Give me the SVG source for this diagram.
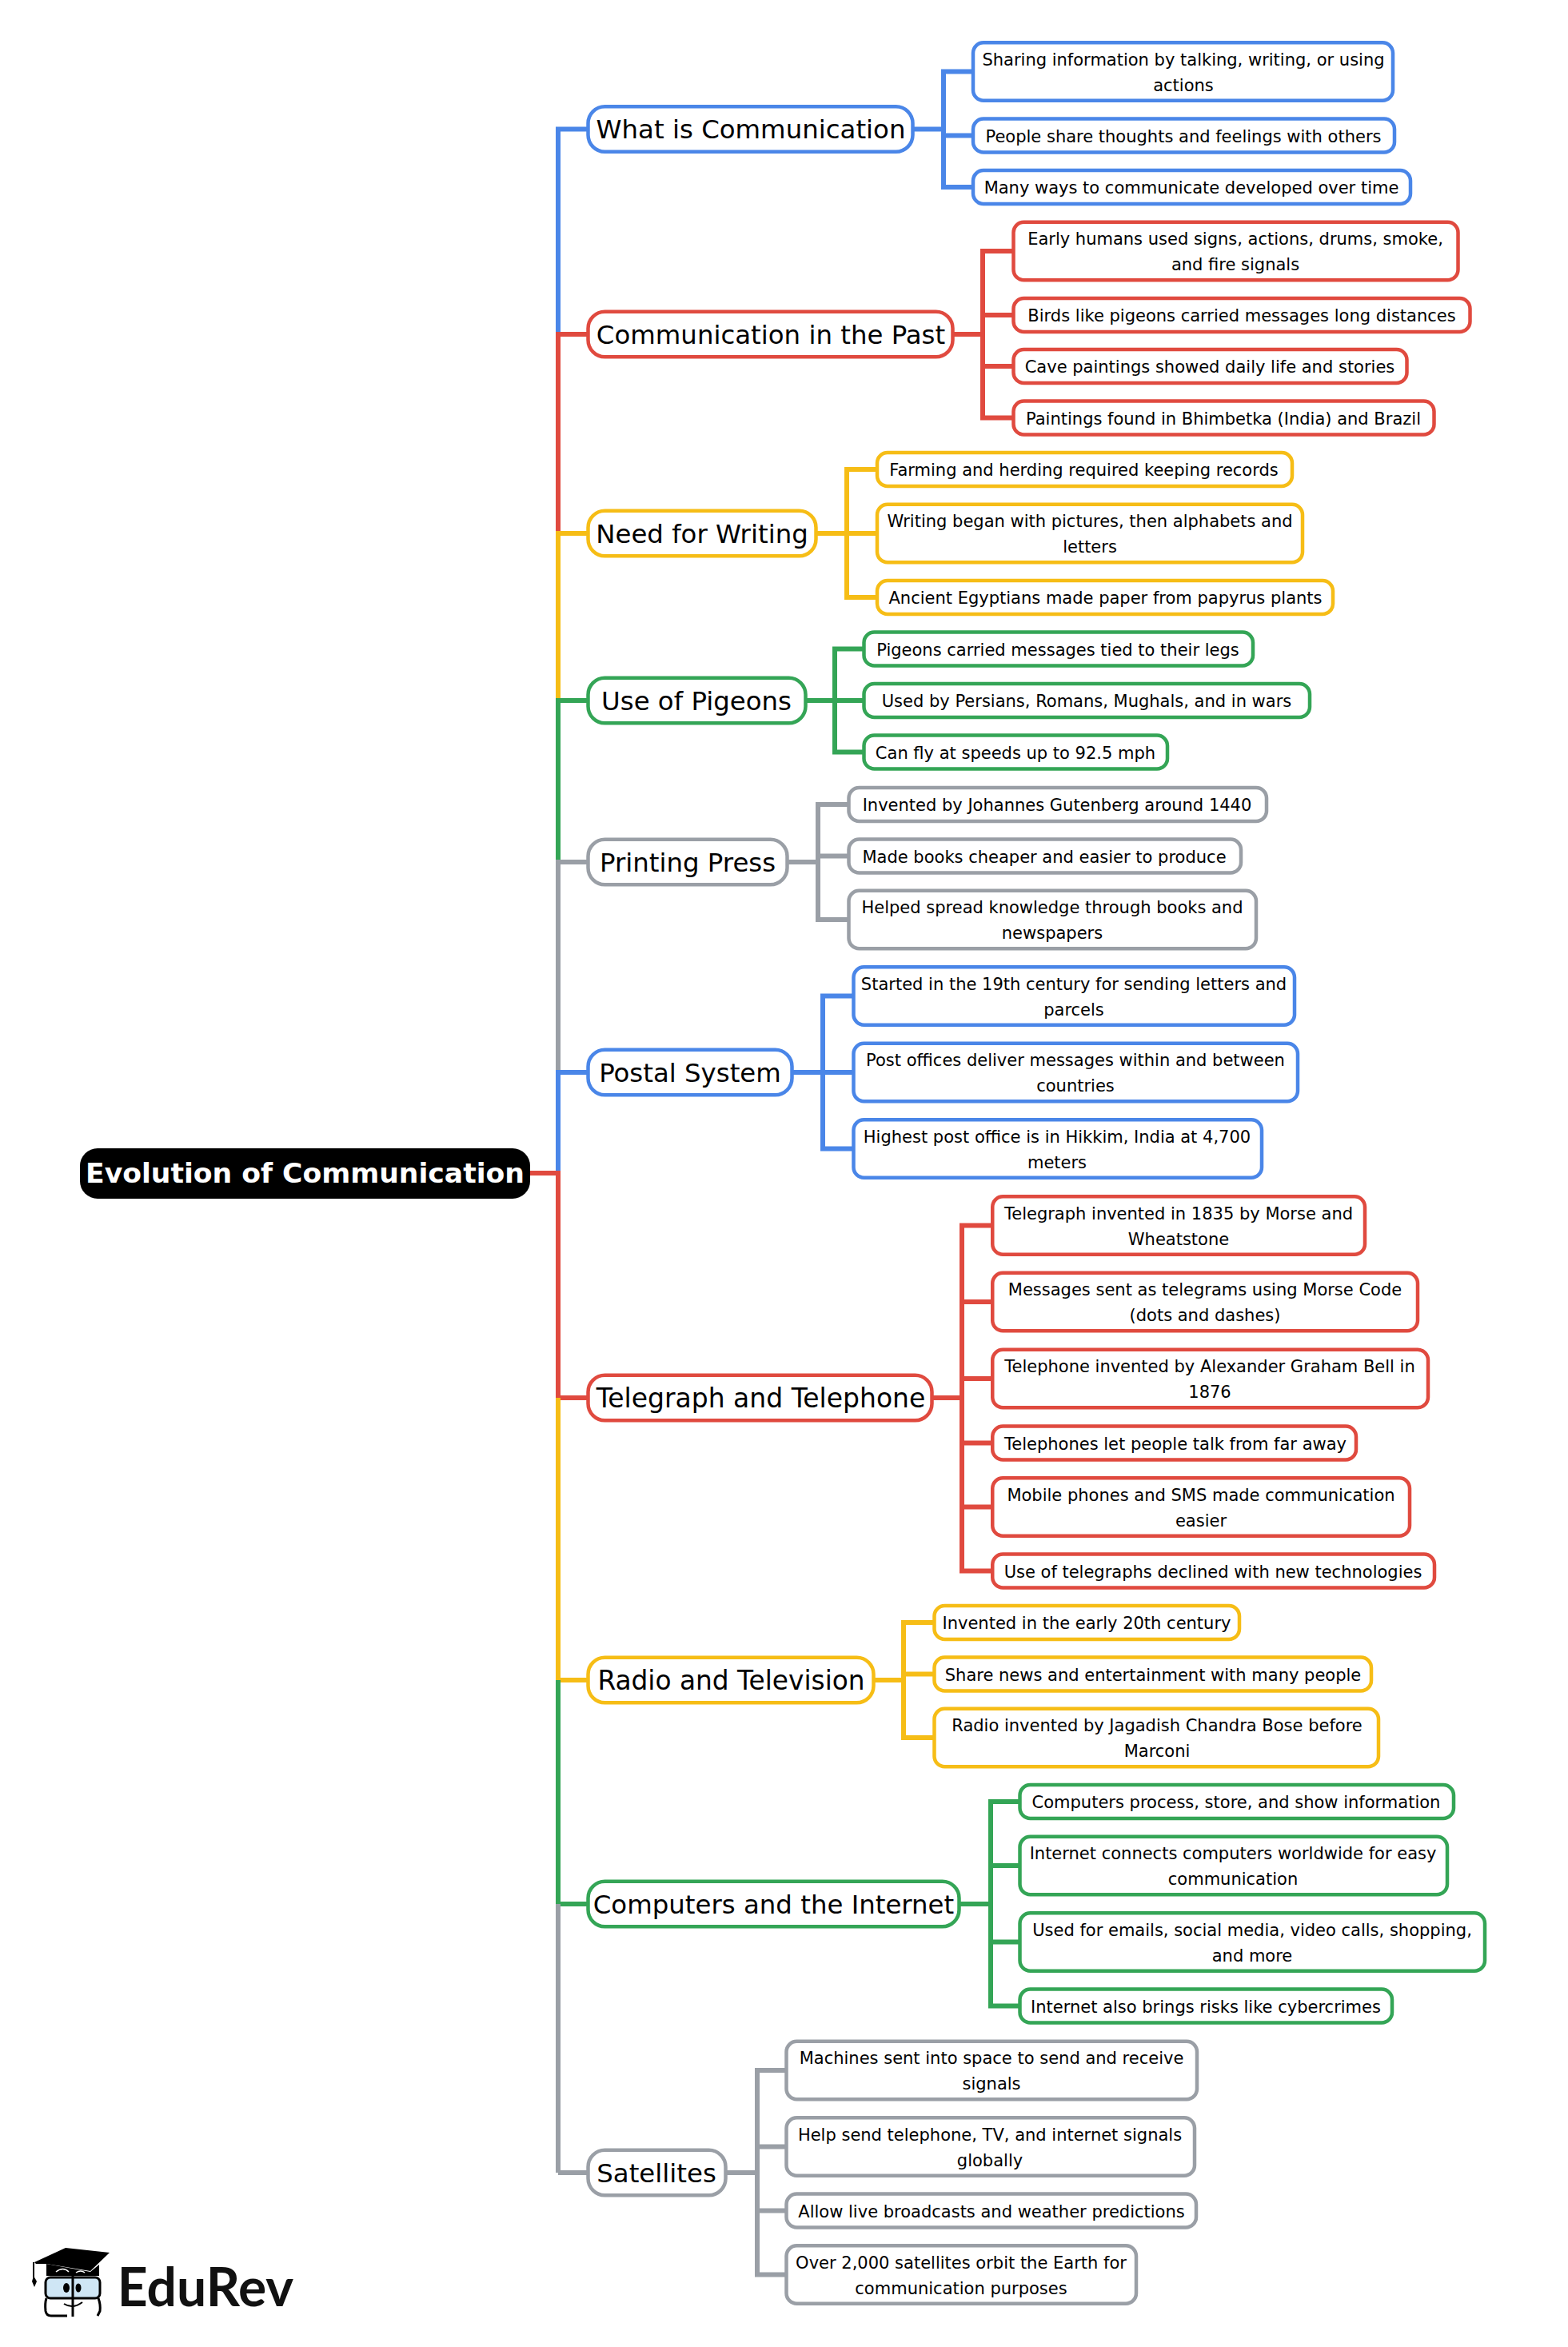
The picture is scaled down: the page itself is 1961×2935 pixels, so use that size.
<svg xmlns="http://www.w3.org/2000/svg" width="1961" height="2935" viewBox="0 0 1961 2935">
<style>
text{font-family:"DejaVu Sans",sans-serif;text-anchor:middle;fill:#000}
.k rect{fill:#fff;stroke-width:4.5;rx:13px}
.p rect{fill:#fff;stroke-width:4.5;rx:21px}
.k text{font-size:21px;transform:translateY(.5px)}
.p text{font-size:32.4px;transform:translateY(.5px)}
.b rect{stroke:#4a86e8}.r rect{stroke:#e04a3f}.y rect{stroke:#f6bd16}.g rect{stroke:#34a556}.a rect{stroke:#9a9fa6}
#connectors path{fill:none;stroke-width:6}
.lb{stroke:#4a86e8}.lr{stroke:#e04a3f}.ly{stroke:#f6bd16}.lg{stroke:#34a556}.la{stroke:#9a9fa6}
</style>
<rect width="1961" height="2935" fill="#fff"/>
<g id="connectors">
<path class="lb" d="M698 418V161.500H735M1143 161.500H1180M1216 89.500H1180V234H1216M1180 169.500H1216"/>
<path class="lr" d="M698 667V418H735M1193 418H1229M1266 314H1229V522.500H1266M1229 394H1266M1229 458H1266"/>
<path class="ly" d="M698 876V667H735M1022 667H1059M1095 587H1059V747H1095M1059 667H1095"/>
<path class="lg" d="M698 1078V876H735M1009 876H1044M1079 811.500H1044V940.500H1079M1044 876H1079"/>
<path class="la" d="M698 1341V1078H735M986 1078H1023M1060 1006H1023V1150H1060M1023 1070.500H1060"/>
<path class="lb" d="M698 1467V1341H735M992 1341H1029M1066 1245.500H1029V1436.500H1066M1029 1341H1066"/>
<path class="lr" d="M663 1467H698V1748H735M1167 1748H1203M1240 1532.500H1203V1964.500H1240M1203 1628H1240M1203 1724H1240M1203 1804.500H1240M1203 1884.500H1240"/>
<path class="ly" d="M698 2101V1748M698 2101H735M1094 2101H1130M1167 2029H1130V2173H1167M1130 2093.500H1167"/>
<path class="lg" d="M698 2381V2101M698 2381H735M1201 2381H1239M1274 2253H1239V2508.500H1274M1239 2333H1274M1239 2428.500H1274"/>
<path class="la" d="M698 2717V2381M698 2717H735M909 2717H947M982 2589H947V2844.500H982M947 2684.500H982M947 2764.500H982"/>
</g>
<g id="root"><rect x="100" y="1436" width="563" height="63" rx="22" fill="#000"/><text x="381.500" y="1479" font-size="34.600" font-weight="700" style="fill:#fff">Evolution of Communication</text></g>

<g id="n1" class="p b"><rect x="735.500" y="133.250" width="406" height="56.500"/><text x="939" y="172.500">What is Communication</text></g>
<g id="n1a" class="k b"><rect x="1217" y="53.250" width="525" height="72.500"/><text x="1480" y="81">Sharing information by talking, writing, or using</text><text x="1480" y="113">actions</text></g>
<g id="n1b" class="k b"><rect x="1217" y="148.500" width="527" height="42"/><text x="1480" y="177">People share thoughts and feelings with others</text></g>
<g id="n1c" class="k b"><rect x="1217" y="213" width="547" height="42"/><text x="1490" y="241.500">Many ways to communicate developed over time</text></g>

<g id="n2" class="p r"><rect x="735.500" y="389.750" width="456" height="56.500"/><text x="964" y="429">Communication in the Past</text></g>
<g id="n2a" class="k r"><rect x="1267.500" y="277.750" width="556" height="72.500"/><text x="1545" y="305.500">Early humans used signs, actions, drums, smoke,</text><text x="1545" y="337.500">and fire signals</text></g>
<g id="n2b" class="k r"><rect x="1267.500" y="373" width="571" height="42"/><text x="1553" y="401.500">Birds like pigeons carried messages long distances</text></g>
<g id="n2c" class="k r"><rect x="1267.500" y="437" width="492" height="42"/><text x="1513" y="465.500">Cave paintings showed daily life and stories</text></g>
<g id="n2d" class="k r"><rect x="1267.500" y="501.500" width="526" height="42"/><text x="1530" y="530">Paintings found in Bhimbetka (India) and Brazil</text></g>

<g id="n3" class="p y"><rect x="735.500" y="638.750" width="285" height="56.500"/><text x="878" y="678">Need for Writing</text></g>
<g id="n3a" class="k y"><rect x="1097" y="566" width="519" height="42"/><text x="1355.500" y="594.500">Farming and herding required keeping records</text></g>
<g id="n3b" class="k y"><rect x="1097" y="630.750" width="532" height="72.500"/><text x="1363" y="658.500">Writing began with pictures, then alphabets and</text><text x="1363" y="690.500">letters</text></g>
<g id="n3c" class="k y"><rect x="1097" y="726" width="570" height="42"/><text x="1382.500" y="754.500">Ancient Egyptians made paper from papyrus plants</text></g>

<g id="n4" class="p g"><rect x="735.500" y="847.750" width="272" height="56.500"/><text x="871" y="887">Use of Pigeons</text></g>
<g id="n4a" class="k g"><rect x="1080.500" y="790.500" width="486.500" height="42"/><text x="1323" y="819">Pigeons carried messages tied to their legs</text></g>
<g id="n4b" class="k g"><rect x="1080.500" y="855" width="557.500" height="42"/><text x="1359" y="883.500">Used by Persians, Romans, Mughals, and in wars</text></g>
<g id="n4c" class="k g"><rect x="1080.500" y="919.500" width="379.500" height="42"/><text x="1270" y="948">Can fly at speeds up to 92.5 mph</text></g>

<g id="n5" class="p a"><rect x="735.500" y="1049.750" width="249" height="56.500"/><text x="860" y="1089">Printing Press</text></g>
<g id="n5a" class="k a"><rect x="1061.500" y="985" width="522.500" height="42"/><text x="1322" y="1013">Invented by Johannes Gutenberg around 1440</text></g>
<g id="n5b" class="k a"><rect x="1061.500" y="1049.500" width="490.500" height="42"/><text x="1306" y="1078">Made books cheaper and easier to produce</text></g>
<g id="n5c" class="k a"><rect x="1061.500" y="1113.750" width="509.500" height="72.500"/><text x="1316" y="1141.500">Helped spread knowledge through books and</text><text x="1316" y="1173.500">newspapers</text></g>

<g id="n6" class="p b"><rect x="735.500" y="1312.750" width="255" height="56.500"/><text x="863" y="1352">Postal System</text></g>
<g id="n6a" class="k b"><rect x="1067.500" y="1209.250" width="551.500" height="72.500"/><text x="1343" y="1237">Started in the 19th century for sending letters and</text><text x="1343" y="1269">parcels</text></g>
<g id="n6b" class="k b"><rect x="1067.500" y="1304.750" width="555.500" height="72.500"/><text x="1345" y="1332.500">Post offices deliver messages within and between</text><text x="1345" y="1364.500">countries</text></g>
<g id="n6c" class="k b"><rect x="1067.500" y="1400.250" width="510.500" height="72.500"/><text x="1322" y="1428">Highest post office is in Hikkim, India at 4,700</text><text x="1322" y="1460">meters</text></g>

<g id="n7" class="p r"><rect x="735.500" y="1719.750" width="430" height="56.500"/><text x="951.500" y="1759" style="font-size:33px">Telegraph and Telephone</text></g>
<g id="n7a" class="k r"><rect x="1241.250" y="1496.250" width="465.750" height="72.500"/><text x="1474" y="1524">Telegraph invented in 1835 by Morse and</text><text x="1474" y="1556">Wheatstone</text></g>
<g id="n7b" class="k r"><rect x="1241.250" y="1591.750" width="531.750" height="72.500"/><text x="1507" y="1619.500">Messages sent as telegrams using Morse Code</text><text x="1507" y="1651.500">(dots and dashes)</text></g>
<g id="n7c" class="k r"><rect x="1241.250" y="1687.750" width="544.750" height="72.500"/><text x="1513" y="1715.500">Telephone invented by Alexander Graham Bell in</text><text x="1513" y="1747.500">1876</text></g>
<g id="n7d" class="k r"><rect x="1241.250" y="1783.500" width="454.750" height="42"/><text x="1470" y="1812">Telephones let people talk from far away</text></g>
<g id="n7e" class="k r"><rect x="1241.250" y="1848.250" width="521.750" height="72.500"/><text x="1502" y="1876">Mobile phones and SMS made communication</text><text x="1502" y="1908">easier</text></g>
<g id="n7f" class="k r"><rect x="1241.250" y="1943.500" width="552.750" height="42"/><text x="1517" y="1972">Use of telegraphs declined with new technologies</text></g>

<g id="n8" class="p y"><rect x="735.500" y="2072.750" width="357" height="56.500"/><text x="914.500" y="2112" style="font-size:32.800px">Radio and Television</text></g>
<g id="n8a" class="k y"><rect x="1168.500" y="2008" width="381.500" height="42"/><text x="1359" y="2036.500">Invented in the early 20th century</text></g>
<g id="n8b" class="k y"><rect x="1168.500" y="2072.500" width="546.500" height="42"/><text x="1442" y="2101">Share news and entertainment with many people</text></g>
<g id="n8c" class="k y"><rect x="1168.500" y="2136.750" width="555.500" height="72.500"/><text x="1447" y="2164.500">Radio invented by Jagadish Chandra Bose before</text><text x="1447" y="2196.500">Marconi</text></g>

<g id="n9" class="p g"><rect x="735.500" y="2352.750" width="464" height="56.500"/><text x="967.500" y="2392">Computers and the Internet</text></g>
<g id="n9a" class="k g"><rect x="1275.500" y="2232" width="542.500" height="42"/><text x="1546" y="2260.500">Computers process, store, and show information</text></g>
<g id="n9b" class="k g"><rect x="1275.500" y="2296.750" width="534.500" height="72.500"/><text x="1542" y="2324.500">Internet connects computers worldwide for easy</text><text x="1542" y="2356.500">communication</text></g>
<g id="n9c" class="k g"><rect x="1275.500" y="2392.250" width="581.500" height="72.500"/><text x="1566" y="2420">Used for emails, social media, video calls, shopping,</text><text x="1566" y="2452">and more</text></g>
<g id="n9d" class="k g"><rect x="1275.500" y="2487.500" width="465.500" height="42"/><text x="1508" y="2516">Internet also brings risks like cybercrimes</text></g>

<g id="n10" class="p a"><rect x="735.500" y="2688.750" width="172" height="56.500"/><text x="821" y="2728">Satellites</text></g>
<g id="n10a" class="k a"><rect x="983.500" y="2552.750" width="513.500" height="72.500"/><text x="1240" y="2580.500">Machines sent into space to send and receive</text><text x="1240" y="2612.500">signals</text></g>
<g id="n10b" class="k a"><rect x="983.500" y="2648.250" width="510.500" height="72.500"/><text x="1238" y="2676">Help send telephone, TV, and internet signals</text><text x="1238" y="2708">globally</text></g>
<g id="n10c" class="k a"><rect x="983.500" y="2743.500" width="512.500" height="42"/><text x="1240" y="2772">Allow live broadcasts and weather predictions</text></g>
<g id="n10d" class="k a"><rect x="983.500" y="2808.250" width="437.500" height="72.500"/><text x="1202" y="2836">Over 2,000 satellites orbit the Earth for</text><text x="1202" y="2868">communication purposes</text></g>

<g id="logo">
<path d="M43 2829L82 2811L137 2817L113 2840L58 2831L45 2831Z" fill="#000"/>
<path d="M42 2829V2848" stroke="#000" stroke-width="2" fill="none"/>
<path d="M42 2846L46 2853L43 2860L40 2853Z" fill="#000"/>
<path d="M58 2831L113 2841L124 2832V2846H58Z" fill="#000"/>
<path d="M70 2841Q79 2834 86 2841M95 2842Q101 2838 106 2842" stroke="#fff" stroke-width="1.500" fill="none"/>
<rect x="57" y="2848" width="68" height="26" rx="6" fill="#cfe6f5" stroke="#000" stroke-width="3"/>
<path d="M91 2845V2897" stroke="#000" stroke-width="3"/>
<ellipse cx="83" cy="2861" rx="4" ry="6" fill="#000"/><ellipse cx="98" cy="2861" rx="3.500" ry="5.500" fill="#000"/>
<path d="M58 2874Q56 2880 57 2890Q58 2896 64 2896H84M123 2874Q126 2882 125 2890L122 2896" stroke="#000" stroke-width="3" fill="none"/>
<path d="M80 2881Q91 2888 103 2879" stroke="#000" stroke-width="2" fill="none"/>
<text x="257" y="2884" font-size="66" font-weight="700" style="font-family:Lato,sans-serif;fill:#111">EduRev</text>
</g>
</svg>
